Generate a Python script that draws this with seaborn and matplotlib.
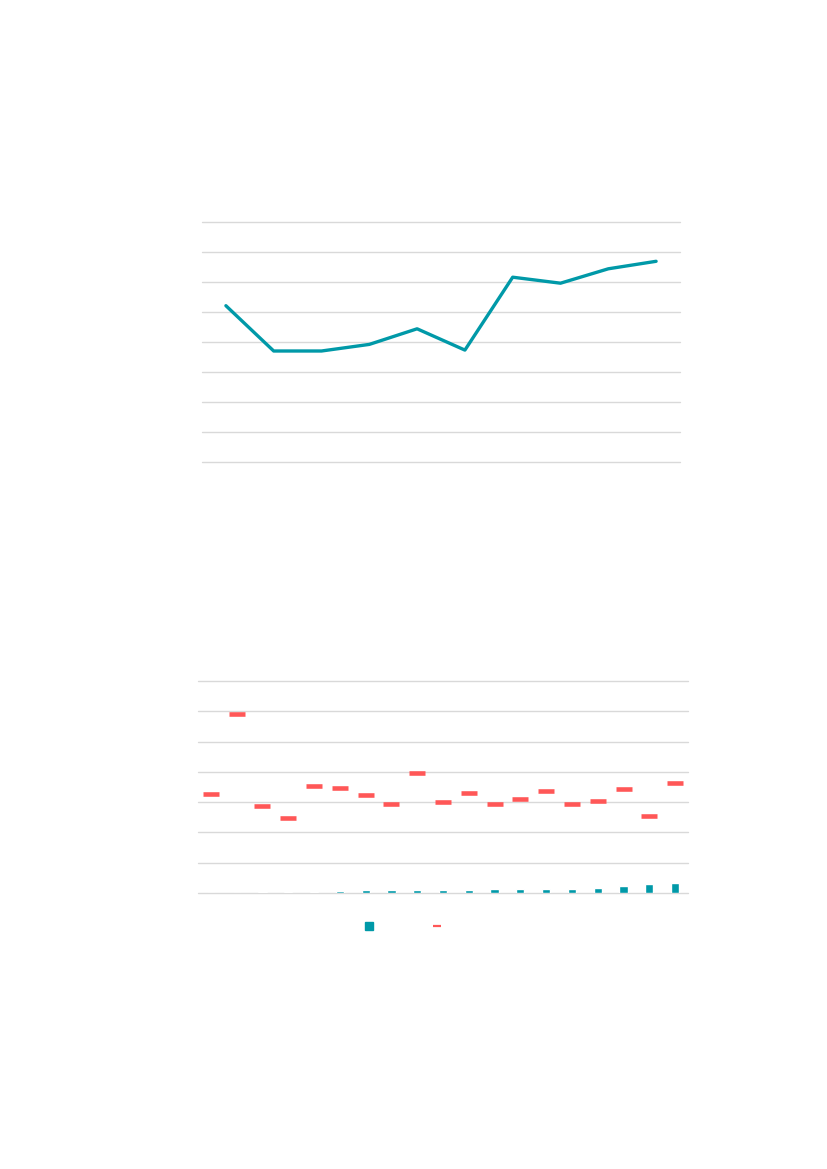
import matplotlib
matplotlib.use("Agg")
import matplotlib.pyplot as plt
from matplotlib.lines import Line2D
import seaborn as sns
import pandas as pd

# Upper panel: single series over ten periods
line_periods = list(range(1, 11))
line_values = [52.1, 37.0, 37.0, 39.2, 44.4, 37.3, 61.6, 59.6, 64.4, 66.9]

# Lower panel: nineteen categories, bars plus a marker series
cat_labels = [f"C{i}" for i in range(1, 20)]
bar_values = [0.0, 0.0, 0.02, 0.02, 0.04, 0.055, 0.09, 0.09, 0.09, 0.11,
              0.11, 0.12, 0.14, 0.14, 0.14, 0.18, 0.22, 0.30, 0.33]
marker_values = [3.26, 5.92, 2.88, 2.49, 3.54, 3.48, 3.22, 2.94, 3.97, 3.01,
                 3.31, 2.95, 3.11, 3.38, 2.95, 3.05, 3.44, 2.55, 3.62]

TEAL = "#0099A8"
RED = "#FF5757"
GRID = "#D9D9D9"

sns.set_theme(style="white")
fig = plt.figure(figsize=(8.27, 11.69), dpi=100)
fig.patch.set_facecolor("white")


def style_axes(ax, ymax, step):
    ax.set_ylim(0, ymax)
    ax.set_yticks([step * k for k in range(int(round(ymax / step)) + 1)])
    ax.yaxis.grid(True, color=GRID, linewidth=1.0)
    ax.xaxis.grid(False)
    ax.set_axisbelow(True)
    for s in ax.spines.values():
        s.set_visible(False)
    ax.tick_params(left=False, bottom=False, labelleft=False, labelbottom=False)
    ax.set_xlabel("")
    ax.set_ylabel("")
    for gl in ax.get_ygridlines():
        gl.set_clip_on(False)


# ---- upper line chart ----
ax1 = fig.add_axes([202 / 827, 1 - 462 / 1169, 478 / 827, 240 / 1169])
df_line = pd.DataFrame({"x": list(range(len(line_periods))), "y": line_values})
sns.lineplot(data=df_line, x="x", y="y", ax=ax1, color=TEAL, linewidth=2.4)
ax1.set_xlim(-0.5, len(line_periods) - 0.5)
style_axes(ax1, 80, 10)

# ---- lower bar + marker chart ----
ax2 = fig.add_axes([198 / 827, 1 - 893 / 1169, 490 / 827, 212 / 1169])
df_bar = pd.DataFrame({"cat": cat_labels, "bar": bar_values, "mark": marker_values})
sns.barplot(data=df_bar, x="cat", y="bar", ax=ax2, color=TEAL, width=0.32,
            saturation=1.0)
sns.scatterplot(data=df_bar, x="cat", y="mark", ax=ax2, color=RED, marker="_",
                s=120, linewidth=3.3, zorder=3)
ax2.set_xlim(-0.5, len(cat_labels) - 0.5)
style_axes(ax2, 7, 1)
if ax2.get_legend() is not None:
    ax2.get_legend().remove()

handles = [
    Line2D([], [], color=TEAL, marker="s", markersize=5.2, linestyle="none"),
    Line2D([], [], color=RED, marker="_", markersize=6, markeredgewidth=1.6,
           linestyle="none"),
]
fig.legend(handles, ["", ""], loc="center", bbox_to_anchor=(403 / 827, 1 - 927 / 1169),
           ncol=2, frameon=False, handlelength=1.0, handletextpad=0.0,
           columnspacing=3.9, fontsize=10)

fig.savefig("out.png", dpi=100, facecolor="white")
